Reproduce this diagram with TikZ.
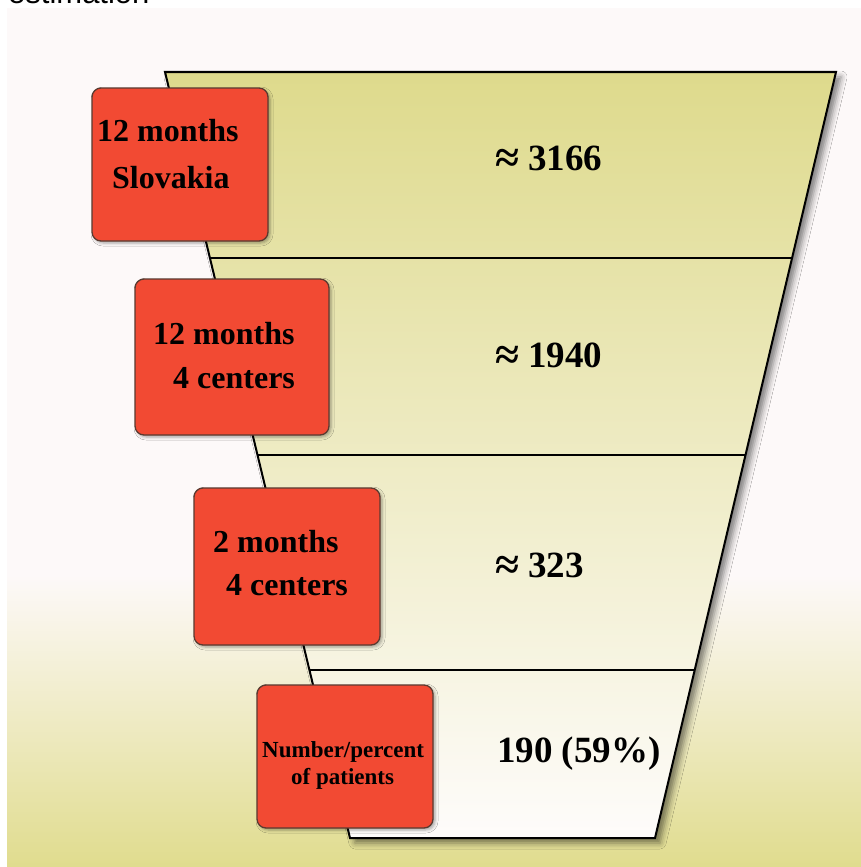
\documentclass[tikz,border=0pt]{standalone}
\usepackage{fontspec}
\setmainfont{Liberation Serif}
\newfontfamily\sansf{Liberation Sans}
\usetikzlibrary{calc,shadows.blur}
\definecolor{bgwhite}{HTML}{FDF9F9}
\definecolor{bgyellow}{HTML}{E0DC8E}
\definecolor{funtop}{HTML}{DEDA8C}
\definecolor{funbot}{HTML}{FEFCFB}
\definecolor{boxred}{HTML}{F24A33}
\definecolor{boxedge}{HTML}{5A3A30}
\newcommand{\approxsym}{\raisebox{-2pt}{\scalebox{1.18}{≈}}}
\tikzset{
  redbox/.style={draw=boxedge, line width=1.3pt, fill=boxred, rounded corners=9pt, inner sep=0pt,
    blur shadow={shadow xshift=2pt, shadow yshift=-2pt, shadow blur radius=3pt, shadow opacity=35}},
  boxtxt/.style={anchor=base west, inner sep=0pt, font=\fontsize{32}{38}\selectfont\bfseries},
  smalltxt/.style={anchor=base west, inner sep=0pt, font=\fontsize{23}{28}\selectfont\bfseries},
  numtxt/.style={anchor=base west, inner sep=0pt, font=\fontsize{37}{44}\selectfont\bfseries},
  divider/.style={line width=1.5pt, black}
}
\begin{document}
\begin{tikzpicture}[x=1pt,y=-1pt]
\useasboundingbox (0,0) rectangle (861,867);
\clip (0,0) rectangle (861,867);
% background
\fill[white] (0,0) rectangle (861,867);
\fill[bgwhite] (7,8) rectangle (861,576);
\shade[top color=bgwhite, bottom color=bgyellow] (7,575) rectangle (861,867);
% cut-off heading (cut at the top edge, as in the reference)
\node[anchor=base west, inner sep=0pt, font=\sansf\fontsize{31}{36}\selectfont] (head) at (8,4) {estimation};
% funnel
\coordinate (TL) at (165,72);
\coordinate (TR) at (836,72);
\coordinate (BR) at (655,838);
\coordinate (BL) at (350,838);
\shade[top color=funtop, bottom color=funbot,
  blur shadow={shadow xshift=5pt, shadow yshift=-5pt, shadow blur radius=6pt, shadow opacity=50}]
  (TL) -- (TR) -- (BR) -- (BL) -- cycle;
\coordinate (L1) at ($(TL)!0.2428!(BL)$);
\coordinate (R1) at ($(TR)!0.2428!(BR)$);
\coordinate (L2) at ($(TL)!0.5!(BL)$);
\coordinate (R2) at ($(TR)!0.5!(BR)$);
\coordinate (L3) at ($(TL)!0.7807!(BL)$);
\coordinate (R3) at ($(TR)!0.7807!(BR)$);
\draw[divider] (L1) -- (R1);
\draw[divider] (L2) -- (R2);
\draw[divider] (L3) -- (R3);
\draw[line width=2pt, line join=miter] (TL) -- (TR) -- (BR) -- (BL) -- cycle;
% red boxes
\node[redbox, minimum width=176pt, minimum height=153pt] (b1) at (180,164.5) {};
\node[redbox, minimum width=194pt, minimum height=156pt] (b2) at (232,357) {};
\node[redbox, minimum width=186pt, minimum height=157pt] (b3) at (287,566.5) {};
\node[redbox, minimum width=176pt, minimum height=143pt] (b4) at (345,756.5) {};
% box texts
\node[boxtxt] (t1a) at (97,141) {12 months};
\node[boxtxt] (t1b) at (112,188) {Slovakia};
\node[boxtxt] (t2a) at (153,344) {12 months};
\node[boxtxt] (t2b) at (173,388) {4 centers};
\node[boxtxt] (t3a) at (213,552) {2 months};
\node[boxtxt] (t3b) at (226,595) {4 centers};
\node[smalltxt] (t4a) at (262,757) {Number/percent};
\node[smalltxt] (t4b) at (291,784) {of patients};
% numbers
\node[numtxt] (n1) at (495,170) {\approxsym\ 3166};
\node[numtxt] (n2) at (495,367) {\approxsym\ 1940};
\node[numtxt] (n3) at (495,577) {\approxsym\ 323};
\node[numtxt] (n4) at (497,762) {190 (59\%)};
\end{tikzpicture}
\end{document}
